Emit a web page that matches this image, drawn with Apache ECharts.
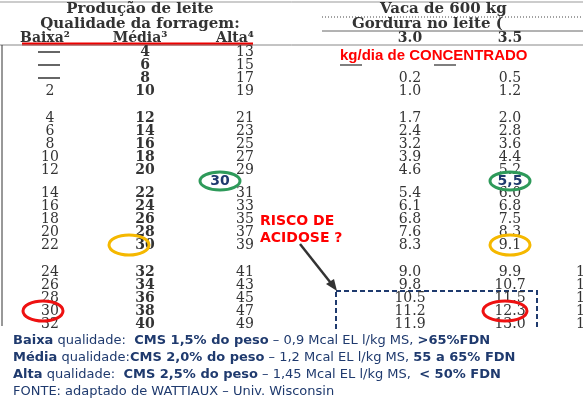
<!DOCTYPE html>
<html>
<head>
<meta charset="utf-8">
<script src="https://cdn.jsdelivr.net/npm/echarts@6/dist/echarts.min.js"></script>
<style>html,body{margin:0;padding:0;background:#fff}#main{width:583px;height:402px}</style>
</head>
<body>
<div id="main"></div>
<script>
// dados da tabela (Wattiaux)
var baixa=["—","—","—","2","4","6","8","10","12","14","16","18","20","22","24","26","28","30","32"];
var media=["4","6","8","10","12","14","16","18","20","22","24","26","28","30","32","34","36","38","40"];
var alta=["13","15","17","19","21","23","25","27","29","31","33","35","37","39","41","43","45","47","49"];
var gord30=["","","0.2","1.0","1.7","2.4","3.2","3.9","4.6","5.4","6.1","6.8","7.6","8.3","9.0","9.8","10.5","11.2","11.9"];
var gord35=["","","0.5","1.2","2.0","2.8","3.6","4.4","5.2","6.0","6.8","7.5","8.3","9.1","9.9","10.7","11.5","12.3","13.0"];
var gordExtra=["","","","","","","","","","","","","","","1","1","1","1","1"];
var notas=[
  [["Baixa",true]," qualidade:  ",["CMS 1,5% do peso",true]," – 0,9 Mcal EL l/kg MS, ",[">65%FDN",true]],
  [["Média",true]," qualidade:",["CMS 2,0% do peso",true]," – 1,2 Mcal EL l/kg MS, ",["55 a 65% FDN",true]],
  [["Alta",true]," qualidade:  ",["CMS 2,5% do peso",true]," – 1,45 Mcal EL l/kg MS,  ",["< 50% FDN",true]],
  ["FONTE: adaptado de WATTIAUX – Univ. Wisconsin"]
];

// posição vertical de cada linha (grupos de 4/5/5/5)
function rowY(i){
  if(i<4) return 52+i*13;
  if(i<9) return 118+(i-4)*13;
  if(i<14) return 193+(i-9)*13;
  return 272+(i-14)*13;
}
var serif='"DejaVu Serif","Liberation Serif",serif';
var sans='"DejaVu Sans",Verdana,sans-serif';
var els=[];
function txt(x,y,s,opt){
  opt=opt||{};
  els.push({type:'text',x:x,y:y,z:opt.z||5,style:{text:s,fill:opt.fill||'#333',
    font:(opt.bold?'bold ':'')+(opt.size||14)+'px '+(opt.family||serif),
    textAlign:opt.align||'center',textVerticalAlign:'middle'}});
}
function line(x1,y1,x2,y2,c,w,dash){
  els.push({type:'line',shape:{x1:x1,y1:y1,x2:x2,y2:y2},style:{stroke:c,lineWidth:w,lineDash:dash||null}});
}
function ell(cx,cy,rx,ry,c){
  els.push({type:'ellipse',z:6,shape:{cx:cx,cy:cy,rx:rx,ry:ry},style:{fill:'none',stroke:c,lineWidth:3}});
}

// cabeçalho
line(0,2,583,2,'#999',1);
txt(140,9,'Produção de leite',{bold:true,size:15});
txt(140,24,'Qualidade da forragem:',{bold:true,size:15});
txt(45,38,'Baixa²',{bold:true,size:14});
txt(140,38,'Média³',{bold:true,size:14});
txt(235,38,'Alta⁴',{bold:true,size:14});
line(22,44,253,44,'#e00',3);
line(0,45,583,45,'#888',1);
txt(380,9,'Vaca de 600 kg',{bold:true,size:15,align:'left'});
line(322,17,583,17,'#444',1,[1,2]);
txt(352,24,'Gordura no leite (',{bold:true,size:15,align:'left'});
line(322,31,583,31,'#666',1);
txt(410,38,'3.0',{bold:true,size:14});
txt(510,38,'3.5',{bold:true,size:14});
line(2,45,2,326,'#333',1);
txt(340,56,'kg/dia de CONCENTRADO',{bold:true,size:15,fill:'#ff0000',align:'left',family:'"Liberation Sans",sans-serif'});
line(340,65,362,65,'#555',1.5);
line(434,65,456,65,'#555',1.5);

// corpo da tabela
for(var i=0;i<media.length;i++){
  var y=rowY(i);
  if(baixa[i]==="—") line(38,y,60,y,'#333',1.5); else txt(50,y,baixa[i]);
  txt(145,y,media[i],{bold:true});
  txt(245,y,alta[i]);
  if(gord30[i]) txt(410,y,gord30[i]);
  if(gord35[i]) txt(510,y,gord35[i]);
  if(gordExtra[i]) txt(576,y,gordExtra[i],{align:'left'});
}

// destaques
txt(220,181,'30',{bold:true,size:14,fill:'#1f3a6e',family:sans});
ell(220,181,20,9,'#2e9a5a');
txt(510,181,'5,5',{bold:true,size:14,fill:'#1f3a6e',family:sans});
ell(510,181,20,9,'#2e9a5a');
ell(129,245,20,10,'#f5b800');
ell(510,245,20,10,'#f5b800');
ell(43,311,20,10,'#ee1111');
ell(505,311,22,10,'#ee1111');
els.push({type:'rect',shape:{x:336,y:291,width:201,height:42},style:{fill:'none',stroke:'#1f3a6e',lineWidth:2,lineDash:[5,3]}});
txt(260,221,'RISCO DE',{bold:true,size:14,fill:'#ff0000',align:'left',family:sans});
txt(260,238,'ACIDOSE ?',{bold:true,size:14,fill:'#ff0000',align:'left',family:sans});
line(300,244,334,287,'#333',2.5);
els.push({type:'polygon',shape:{points:[[337,291],[326,284],[334,279]]},style:{fill:'#333'}});

// notas de rodapé
els.push({type:'rect',z:4,shape:{x:0,y:330,width:583,height:72},style:{fill:'#fff'}});
notas.forEach(function(n,k){
  var rich='';
  n.forEach(function(p){
    if(typeof p==='string') rich+='{n|'+p+'}'; else rich+='{b|'+p[0]+'}';
  });
  els.push({type:'text',x:13,y:341+k*17,z:7,style:{text:rich,textVerticalAlign:'middle',
    rich:{n:{font:'13px '+sans,fill:'#1f3a6e'},b:{font:'bold 13px '+sans,fill:'#1f3a6e'}}}});
});

var chart=echarts.init(document.getElementById('main'));
chart.setOption({graphic:{elements:els}});
</script>
</body>
</html>
